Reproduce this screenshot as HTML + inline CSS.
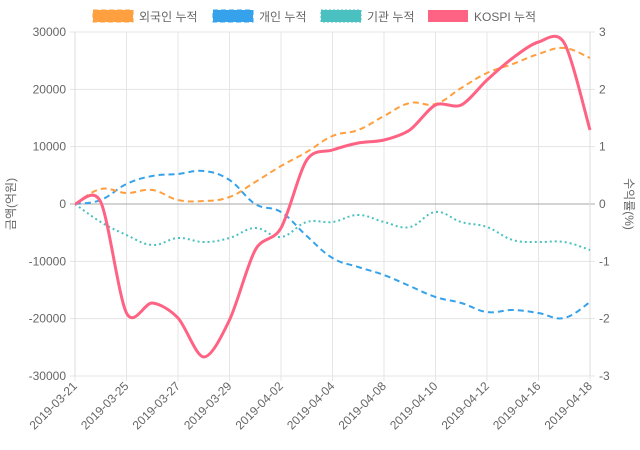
<!DOCTYPE html>
<html><head><meta charset="utf-8"><style>
html,body{margin:0;padding:0;background:#fff;}
svg{display:block;font-family:"Liberation Sans","Noto Sans CJK KR",sans-serif;}
</style></head><body>
<svg id="c" width="640" height="450" viewBox="0 0 640 450">
<g stroke="#e5e5e5" stroke-width="1" id="grid"></g>
<g font-size="12" fill="#666" id="lbl"></g>
<g id="series" fill="none"></g>
<g font-size="12" fill="#666">
<rect x="93" y="10" width="40" height="12" fill="#ffa040" stroke="#ff9f40" stroke-dasharray="5,3"/>
<text x="139" y="21">외국인 누적</text>
<rect x="213" y="10" width="40" height="12" fill="#36a2eb" stroke="#36a2eb" stroke-dasharray="5,3"/>
<text x="259" y="21">개인 누적</text>
<rect x="321" y="10" width="40" height="12" fill="#4bc0c0" stroke="#4bc0c0" stroke-dasharray="2,2"/>
<text x="367" y="21">기관 누적</text>
<rect x="428" y="10" width="40" height="12" fill="#ff6384"/>
<text x="474" y="21">KOSPI 누적</text>
<text transform="translate(15,204) rotate(-90)" text-anchor="middle">금액(억원)</text>
<text transform="translate(625,204) rotate(90)" text-anchor="middle">수익률(%)</text>
</g>
</svg>
<script>
var ns="http://www.w3.org/2000/svg";
function el(p,t,a,txt){var e=document.createElementNS(ns,t);for(var k in a)e.setAttribute(k,a[k]);if(txt!=null)e.textContent=txt;document.getElementById(p).appendChild(e);return e;}
var L=75,R=590,T=32,B=376;
var labels=["2019-03-21","2019-03-25","2019-03-27","2019-03-29","2019-04-02","2019-04-04","2019-04-08","2019-04-10","2019-04-12","2019-04-16","2019-04-18"];
for(var i=0;i<=10;i++){var x=L+(R-L)*i/10;el("grid","line",{x1:x,y1:T,x2:x,y2:B+5});
 var y=B+8;el("lbl","text",{x:x,y:y+4,"text-anchor":"end",transform:"rotate(-45 "+x+" "+y+")"},labels[i]);}
var lv=[30000,20000,10000,0,-10000,-20000,-30000],rv=[3,2,1,0,-1,-2,-3];
for(var j=0;j<7;j++){var y=T+(B-T)*j/6;el("grid","line",{x1:L-5,y1:y,x2:R+5,y2:y,stroke:j==3?"#aaa":"#e5e5e5"});
 el("lbl","text",{x:L-9,y:y+4,"text-anchor":"end"},lv[j]);el("lbl","text",{x:R+9,y:y+4},rv[j]);}
el("grid","line",{x1:L,y1:T,x2:L,y2:B,stroke:"#ddd"});el("grid","line",{x1:R,y1:T,x2:R,y2:B,stroke:"#ddd"});
function path(ys,t){var n=ys.length,dx=(R-L)/(n-1),p=[];for(var i=0;i<n;i++)p.push([L+dx*i,ys[i]]);
 var d="M"+p[0][0]+","+p[0][1];
 for(var i=0;i<n-1;i++){var p0=p[Math.max(i-1,0)],p1=p[i],p2=p[i+1],p3=p[Math.min(i+2,n-1)];
  var c1=[p1[0]+(p2[0]-p0[0])*t,p1[1]+(p2[1]-p0[1])*t],c2=[p2[0]-(p3[0]-p1[0])*t,p2[1]-(p3[1]-p1[1])*t];
  d+=" C"+c1+" "+c2+" "+p2;}return d;}
var S=[
[[204,222,235,245,238,242,238,228,237,222,222,215,222,227,212,222,227,240,242,242,250],"#4bc0c0",2,"2,3",0.2],
[[204,200,184,176,174,171,180,204,212,236,258,267,275,286,297,303,312,310,313,318,302],"#36a2eb",2,"6,4",0.2],
[[204,189,193,190,200,201,197,182,166,152,136,130,116,103,104,88,73,64,54,48,58],"#ff9f40",2,"6,4",0.2],
[[204,202,313,303,318,357,320,250,228,160,150,143,140,130,105,105,80,58,42,43,130],"#ff6384",3,null,0.15]];
S.forEach(function(s){var a={d:path(s[0],s[4]),stroke:s[1],"stroke-width":s[2]};if(s[3])a["stroke-dasharray"]=s[3];el("series","path",a);});
</script>
</body></html>
